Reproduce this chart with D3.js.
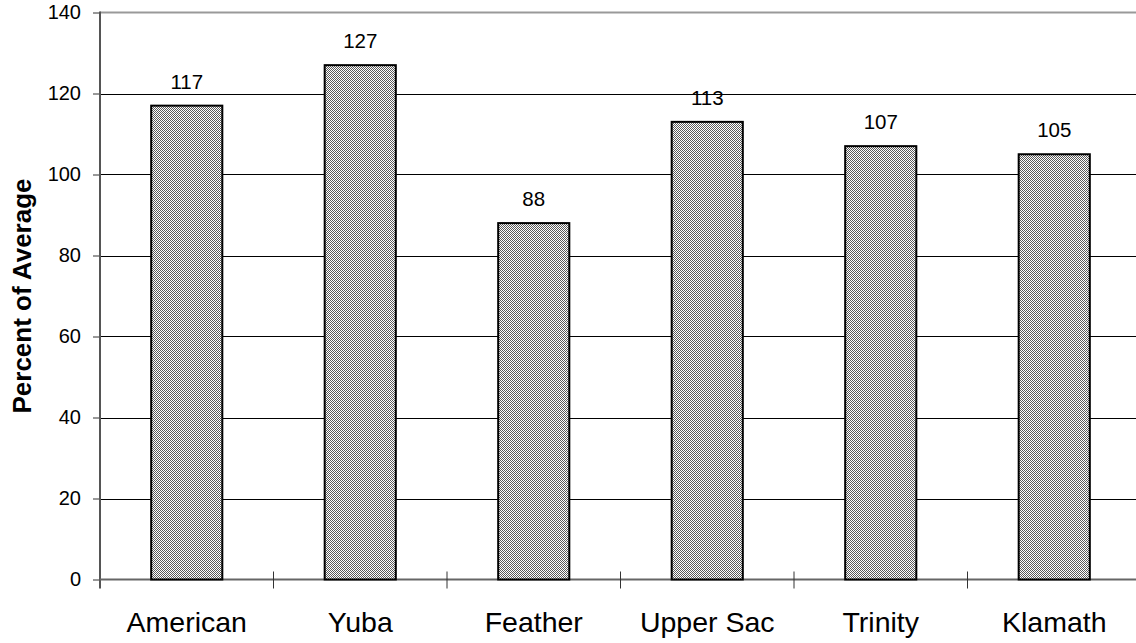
<!DOCTYPE html>
<html><head><meta charset="utf-8">
<script src="https://cdn.jsdelivr.net/npm/d3@7"></script>
<style>html,body{margin:0;padding:0;background:#fff;}svg{display:block;font-family:"Liberation Sans",Arial,sans-serif;}</style>
</head><body>
<svg id="c" width="1136" height="643"></svg>
<script>
const categories = ["American","Yuba","Feather","Upper Sac","Trinity","Klamath"];
const values = [117,127,88,113,107,105];
const yTicks = [0,20,40,60,80,100,120,140];

const svg = d3.select("#c");
const plotLeft = 100, band = 173.5, plotTop = 12.5, plotBottom = 579.5;
const x = d3.scaleBand().domain(categories).range([plotLeft, plotLeft + band*categories.length]).paddingInner(0.59).paddingOuter(0.295);
const y = d3.scaleLinear().domain([0,140]).range([plotBottom, plotTop]);

const defs = svg.append("defs");
const pat = defs.append("pattern").attr("id","chk").attr("patternUnits","userSpaceOnUse").attr("width",2).attr("height",2);
pat.append("rect").attr("width",2).attr("height",2).attr("fill","#fff");
pat.append("rect").attr("x",0).attr("y",0).attr("width",1).attr("height",1).attr("fill","#5a5a5a");
pat.append("rect").attr("x",1).attr("y",1).attr("width",1).attr("height",1).attr("fill","#5a5a5a");

// gridlines
svg.append("g").selectAll("line").data(yTicks.filter(d=>d>0 && d<140)).join("line")
  .attr("x1",plotLeft).attr("x2",1136).attr("y1",d=>Math.round(y(d))+0.5).attr("y2",d=>Math.round(y(d))+0.5)
  .attr("stroke","#000").attr("stroke-width",1);
// top border
svg.append("line").attr("x1",plotLeft).attr("x2",1136).attr("y1",y(140)).attr("y2",y(140)).attr("stroke","#999").attr("stroke-width",2);

// y axis
const ya = svg.append("g").attr("transform",`translate(${plotLeft},0)`)
  .call(d3.axisLeft(y).tickValues(yTicks).tickSize(7).tickPadding(12).tickFormat(d3.format("d")));
ya.select(".domain").remove();
ya.selectAll(".tick line").attr("stroke","#333").attr("stroke-width",1);
ya.selectAll(".tick text").attr("font-size",20).attr("fill","#000").attr("font-family","'Liberation Sans',Arial,sans-serif");
svg.append("line").attr("x1",plotLeft).attr("x2",plotLeft).attr("y1",y(140)-1).attr("y2",plotBottom+9).attr("stroke","#555").attr("stroke-width",2);

// x axis line
svg.append("line").attr("x1",plotLeft).attr("x2",1136).attr("y1",plotBottom).attr("y2",plotBottom).attr("stroke","#666").attr("stroke-width",2);
// category boundary ticks
const bounds = d3.range(1, categories.length+1).map(i => plotLeft + i*band);
svg.append("g").selectAll("line").data(bounds).join("line")
  .attr("x1",d=>d).attr("x2",d=>d).attr("y1",plotBottom-8).attr("y2",plotBottom+9).attr("stroke","#333").attr("stroke-width",1);

// bars
svg.append("g").selectAll("rect").data(values).join("rect")
  .attr("x",(d,i)=>x(categories[i])).attr("width",x.bandwidth())
  .attr("y",d=>y(d)).attr("height",d=>plotBottom-y(d))
  .attr("fill","url(#chk)").attr("stroke","#000").attr("stroke-width",2);

// value labels
svg.append("g").selectAll("text").data(values).join("text")
  .attr("x",(d,i)=>x(categories[i])+x.bandwidth()/2).attr("y",d=>y(d)-17)
  .attr("text-anchor","middle").attr("font-size",20.5).attr("fill","#000").text(d=>d);

// category labels
svg.append("g").selectAll("text").data(categories).join("text")
  .attr("x",d=>x(d)+x.bandwidth()/2).attr("y",632)
  .attr("text-anchor","middle").attr("font-size",28.5).attr("fill","#000").text(d=>d);

// y title
svg.append("text").attr("transform",`translate(31,${(plotTop+plotBottom)/2}) rotate(-90)`)
  .attr("text-anchor","middle").attr("font-size",26).attr("font-weight","bold").attr("fill","#000").text("Percent of Average");
</script>
</body></html>
